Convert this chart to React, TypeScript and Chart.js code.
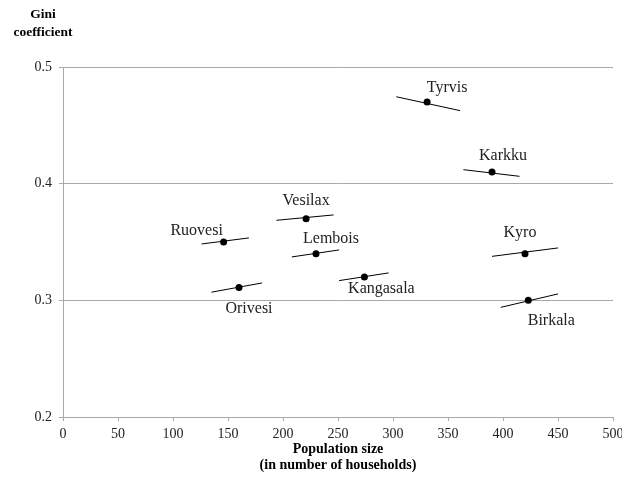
import React, { useEffect, useRef } from "react";
import { Chart, registerables } from "chart.js";

Chart.register(...registerables);

// ---- data ----
const municipalities = ["Tyrvis", "Karkku", "Vesilax", "Ruovesi", "Lembois", "Orivesi", "Kangasala", "Kyro", "Birkala"];
const households = [331, 390, 221, 146, 230, 160, 274, 420, 423];
const gini = [0.47, 0.41, 0.37, 0.35, 0.34, 0.311, 0.32, 0.34, 0.3];
const segStartX = [303, 364, 194, 126, 208, 135, 251, 390, 398];
const segStartY = [0.4745, 0.412, 0.3686, 0.3483, 0.3372, 0.307, 0.3169, 0.3377, 0.294];
const segEndX = [361, 415, 246, 169, 251, 181, 296, 450, 450];
const segEndY = [0.4626, 0.4063, 0.3732, 0.3535, 0.3432, 0.3149, 0.3235, 0.3449, 0.3055];
const xTitleLines = ["Population size", "(in number of households)"];
const yTitleLines = ["Gini", "coefficient"];

// ---- label placement (pixel offsets from each point; styling only) ----
const labelOffsets: [number, number][] = [
  [20, -14],
  [11, -16],
  [0, -18],
  [-27, -11],
  [15, -15],
  [10, 21],
  [17, 12],
  [-5, -21],
  [23, 20],
];

const SERIF = '"Liberation Serif", "Times New Roman", serif';
const GRID = "#a9a9a9";

export default function App() {
  const canvasRef = useRef<HTMLCanvasElement | null>(null);

  useEffect(() => {
    document.body.style.margin = "0";
    const canvas = canvasRef.current;
    if (!canvas) return;

    const segDatasets = municipalities.map((m, i) => ({
      type: "scatter" as const,
      label: m + " slope",
      data: [
        { x: segStartX[i], y: segStartY[i] },
        { x: segEndX[i], y: segEndY[i] },
      ],
      showLine: true,
      borderColor: "#000",
      borderWidth: 1,
      pointRadius: 0,
      pointHoverRadius: 0,
      fill: false,
    }));

    const pointDataset = {
      type: "scatter" as const,
      label: "Gini",
      data: households.map((h, i) => ({ x: h, y: gini[i] })),
      pointRadius: 3.5,
      pointBackgroundColor: "#000",
      pointBorderColor: "#000",
      borderWidth: 0,
      showLine: false,
    };

    const labelPlugin = {
      id: "labelsAndTitles",
      afterDatasetsDraw(chart: any) {
        const ctx = chart.ctx;
        const xs = chart.scales.x;
        const ys = chart.scales.y;
        ctx.save();
        ctx.fillStyle = "#222";
        ctx.font = `16px ${SERIF}`;
        ctx.textAlign = "center";
        ctx.textBaseline = "middle";
        municipalities.forEach((m, i) => {
          const px = xs.getPixelForValue(households[i]);
          const py = ys.getPixelForValue(gini[i]);
          ctx.fillText(m, px + labelOffsets[i][0], py + labelOffsets[i][1]);
        });
        ctx.fillStyle = "#000";
        ctx.font = `bold 13.5px ${SERIF}`;
        ctx.fillText(yTitleLines[0], 43, 15);
        ctx.fillText(yTitleLines[1], 43, 33);
        ctx.font = `bold 14px ${SERIF}`;
        const cx = (chart.chartArea.left + chart.chartArea.right) / 2;
        ctx.fillText(xTitleLines[0], cx, 449);
        ctx.fillText(xTitleLines[1], cx, 465);
        ctx.restore();
      },
    };

    const chart = new Chart(canvas, {
      type: "scatter",
      data: { datasets: [...segDatasets, pointDataset] as any },
      options: {
        responsive: false,
        animation: false,
        events: [],
        layout: { padding: { left: 0, top: 67, right: 9, bottom: 0 } },
        plugins: {
          legend: { display: false },
          tooltip: { enabled: false },
          title: { display: false },
        },
        scales: {
          x: {
            type: "linear",
            min: 0,
            max: 500,
            border: { display: true, color: GRID, width: 1 },
            grid: {
              drawOnChartArea: false,
              drawTicks: true,
              tickLength: 4,
              color: GRID,
            },
            ticks: {
              stepSize: 50,
              autoSkip: false,
              maxRotation: 0,
              padding: 5,
              color: "#222",
              font: { family: SERIF, size: 14 },
            },
            afterFit(scale: any) {
              scale.height = 65;
              scale.paddingLeft = 0;
              scale.paddingRight = 0;
            },
          },
          y: {
            type: "linear",
            min: 0.2,
            max: 0.5,
            border: { display: true, color: GRID, width: 1 },
            grid: {
              drawOnChartArea: true,
              drawTicks: true,
              tickLength: 4,
              color: GRID,
            },
            ticks: {
              stepSize: 0.1,
              padding: 7,
              color: "#222",
              font: { family: SERIF, size: 14 },
              callback: (v: any) => Number(v).toFixed(1),
            },
            afterFit(scale: any) {
              scale.width = 63;
              scale.paddingTop = 0;
              scale.paddingBottom = 0;
            },
          },
        },
      },
      plugins: [labelPlugin],
    });

    return () => chart.destroy();
  }, []);

  return (
    <div style={{ width: 622, height: 482, position: "relative" }}>
      <canvas ref={canvasRef} width={622} height={482} style={{ display: "block", width: 622, height: 482 }} />
    </div>
  );
}
